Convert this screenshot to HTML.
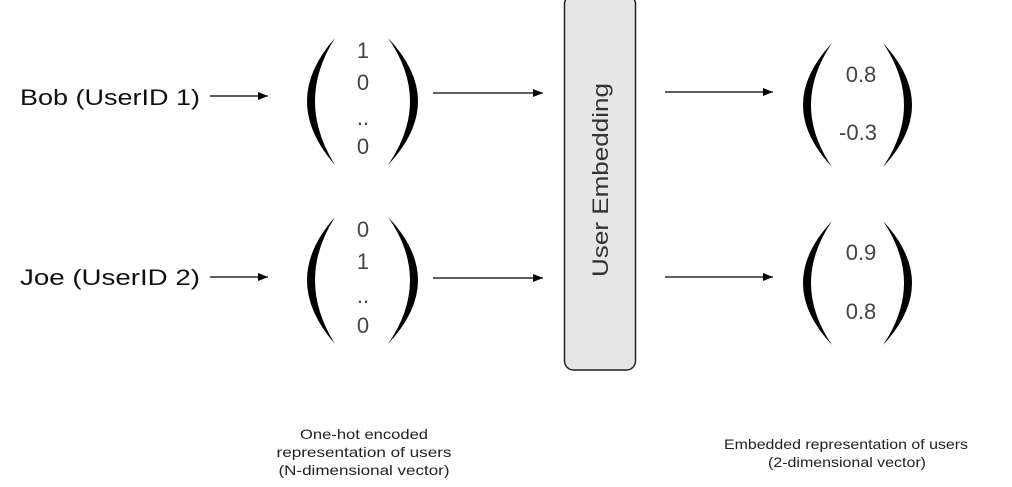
<!DOCTYPE html>
<html><head><style>
html,body{margin:0;padding:0;background:#fff;}
svg{display:block;font-family:"Liberation Sans",sans-serif;}
</style></head><body>
<svg width="1012" height="487" viewBox="0 0 1012 487" xmlns="http://www.w3.org/2000/svg">
<defs>
<marker id="a" markerWidth="10" markerHeight="8" refX="10" refY="4" orient="auto" markerUnits="userSpaceOnUse">
<path d="M0,0 L10,4 L0,8 Z" fill="#000"/></marker>
</defs>
<g fill="#000">
<path d="M335,38 Q279,101 335,165 Q295,101 335,38 Z"/>
<path d="M388,38 Q448,101 388,165 Q432,101 388,38 Z"/>
<path d="M335,217 Q279,280 335,344 Q295,280 335,217 Z"/>
<path d="M388,217 Q448,280 388,344 Q432,280 388,217 Z"/>
<path d="M832,43 Q774,105 832,167 Q790,105 832,43 Z"/>
<path d="M883,43 Q941,105 883,167 Q925,105 883,43 Z"/>
<path d="M832,221 Q774,283 832,345 Q790,283 832,221 Z"/>
<path d="M883,221 Q941,283 883,345 Q925,283 883,221 Z"/>
</g>
<g fill="#444" font-size="22" text-anchor="middle">
<text x="363" y="58">1</text><text x="363" y="90">0</text><text x="363" y="125">..</text><text x="363" y="154">0</text>
<text x="363" y="237">0</text><text x="363" y="269">1</text><text x="363" y="303">..</text><text x="363" y="333">0</text>
<text x="861" y="82">0.8</text><text x="858" y="140">-0.3</text>
<text x="861" y="260">0.9</text><text x="861" y="319">0.8</text>
</g>
<g fill="#111" font-size="22">
<text x="20" y="105" textLength="180" lengthAdjust="spacingAndGlyphs">Bob (UserID 1)</text>
<text x="20" y="285" textLength="180" lengthAdjust="spacingAndGlyphs">Joe (UserID 2)</text>
</g>
<g stroke="#000" stroke-width="1.3" marker-end="url(#a)">
<line x1="210" y1="96" x2="268" y2="96"/>
<line x1="210" y1="277" x2="268" y2="277"/>
<line x1="433" y1="93" x2="543" y2="93"/>
<line x1="433" y1="278" x2="543" y2="278"/>
<line x1="665" y1="92" x2="773" y2="92"/>
<line x1="665" y1="277" x2="773" y2="277"/>
</g>
<rect x="564.5" y="-5" width="71" height="375" rx="9" fill="#e6e6e6" stroke="#222" stroke-width="1.5"/>
<text transform="translate(608,180) rotate(-90)" text-anchor="middle" font-size="22" fill="#333" textLength="194" lengthAdjust="spacingAndGlyphs">User Embedding</text>
<g font-size="14" fill="#222" text-anchor="middle" lengthAdjust="spacingAndGlyphs">
<text x="364" y="439" textLength="128" lengthAdjust="spacingAndGlyphs">One-hot encoded</text>
<text x="364" y="457" textLength="175" lengthAdjust="spacingAndGlyphs">representation of users</text>
<text x="364" y="475" textLength="171" lengthAdjust="spacingAndGlyphs">(N-dimensional vector)</text>
<text x="846" y="449" textLength="244" lengthAdjust="spacingAndGlyphs">Embedded representation of users</text>
<text x="847" y="467" textLength="158" lengthAdjust="spacingAndGlyphs">(2-dimensional vector)</text>
</g>
</svg>
</body></html>
